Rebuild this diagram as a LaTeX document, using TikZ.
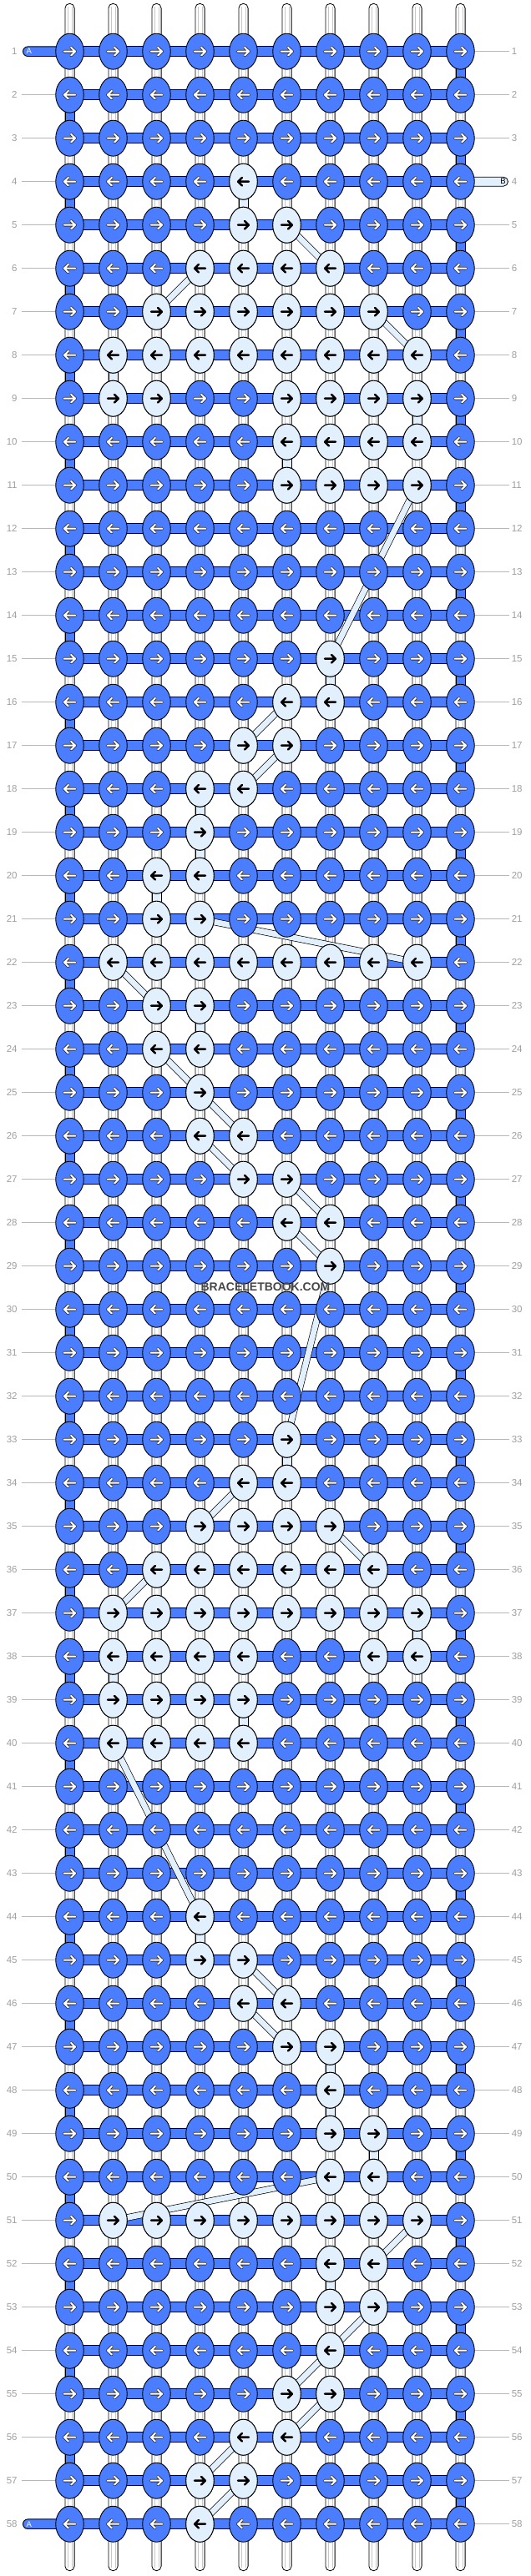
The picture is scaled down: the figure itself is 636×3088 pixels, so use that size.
\documentclass[tikz,border=0pt]{standalone}
\usepackage{fontspec}
\setmainfont{Liberation Sans}
\usetikzlibrary{shapes.geometric}

\definecolor{threadA}{HTML}{4A7DFF}
\definecolor{threadB}{HTML}{E2F0FE}
\definecolor{rowgray}{HTML}{9E9E9E}

\tikzset{
  string/.style={draw=black, fill=white, line width=0.8pt, rounded corners=5.5pt},
  core/.style={draw=black!22, line width=0.6pt},
  turnA/.style={draw=black, fill=threadA, line width=0.8pt},
  passB/.style={draw=black, fill=threadB, line width=0.8pt},
  rowA/.style={draw=black, fill=threadA, line width=0.9pt},
  carryB/.style={draw=black, line width=0.7pt, double=threadB, double distance=6.8pt},
  tick/.style={draw=black!28, line width=0.8pt},
  knotA/.style={ellipse, draw=black, line width=0.9pt, fill=threadA,
    minimum width=33.5pt, minimum height=43pt, inner sep=0pt},
  knotB/.style={knotA, fill=threadB},
  rownum/.style={text=rowgray, font=\fontsize{11.5}{12}\selectfont, inner sep=0pt},
  tabtext/.style={font=\fontsize{9.5}{10}\selectfont, inner sep=0pt},
  arrowW/.pic={
    \draw[line width=3.7pt, line cap=round, line join=round, black!80]
      (-6.8,0) -- (6,0) (1.6,-4.8) -- (6.6,0) -- (1.6,4.8);
    \draw[line width=2pt, line cap=round, line join=round, white]
      (-6.8,0) -- (6,0) (1.6,-4.8) -- (6.6,0) -- (1.6,4.8);
  },
  arrowK/.pic={
    \draw[line width=2.5pt, line cap=round, line join=round, black]
      (-6.5,0) -- (6,0) (1.6,-4.8) -- (6.4,0) -- (1.6,4.8);
  }
}

\begin{document}
\begin{tikzpicture}[x=1pt, y=-1pt]
\useasboundingbox (0,0) rectangle (636,3088);

% grid of knots
\foreach \r in {1,...,58}
  \foreach \c in {0,...,9}
    \coordinate (k-\r-\c) at ({83.5+52*\c},{9.7+52*\r});

% ends of the row ticks
\foreach \r in {1,...,58}{
  \coordinate (lt-\r) at (26,{9.7+52*\r});
  \coordinate (rt-\r) at (610,{9.7+52*\r});
}
\coordinate (A-top) at (27.5,61.7);
\coordinate (A-bot) at (27.5,3025.7);
\coordinate (B-end) at (608.5,217.7);

% ticks to the row numbers
\foreach \r in {2,...,57}
  \draw[tick] (lt-\r) -- (k-\r-0);
\foreach \r in {1,2,3,5,6,...,58}
  \draw[tick] (k-\r-9) -- (rt-\r);

% row numbers
\foreach \r in {1,...,58}{
  \node[rownum, anchor=east] (ln-\r) at (20.8,{9.7+52*\r}) {\r};
  \node[rownum, anchor=west] (rn-\r) at (612.6,{9.7+52*\r}) {\r};
}

% strings
\foreach \c in {0,...,9}{
  \draw[string] ({83.5+52*\c-5.6},4.3) rectangle ({83.5+52*\c+5.6},3081.7);
  \draw[core] ({83.5+52*\c-2.6},8) -- ({83.5+52*\c-2.6},3078)
              ({83.5+52*\c+2.6},8) -- ({83.5+52*\c+2.6},3078);
}

% A turning at the edges
\foreach \r in {1,...,57}{
  \pgfmathtruncatemacro\c{isodd(\r) ? 9 : 0}
  \pgfmathtruncatemacro\s{\r+1}
  \draw[turnA] ([xshift=-5.6pt]k-\r-\c) rectangle ([xshift=5.6pt]k-\s-\c);
}

% B going straight down
\foreach \r/\c in {4/4, 8/1, 9/8, 10/5, 15/6, 18/3, 19/3, 20/2, 23/3, 33/5,
                   37/8, 38/1, 39/4, 44/3, 47/6, 48/6, 49/7, 52/6}{
  \pgfmathtruncatemacro\s{\r+1}
  \draw[passB] ([xshift=-5.6pt]k-\r-\c) rectangle ([xshift=5.6pt]k-\s-\c);
}

% rows of A
\foreach \r in {1,...,58}
  \draw[rowA] ([yshift=5.8pt]k-\r-0) rectangle ([yshift=-5.8pt]k-\r-9);

% tabs A, B
\draw[rowA, rounded corners=5.8pt] ([yshift=5.8pt]A-top) rectangle ([yshift=-5.8pt]k-1-0);
\draw[rowA, rounded corners=5.8pt] ([yshift=5.8pt]A-bot) rectangle ([yshift=-5.8pt]k-58-0);
\draw[passB, rounded corners=5.5pt] ([yshift=5.5pt]k-4-9) rectangle ([yshift=-5.5pt]B-end);
\node[tabtext, text=white] (tA-1) at ([xshift=7.2pt]A-top) {A};
\node[tabtext, text=white] (tA-58) at ([xshift=7.2pt]A-bot) {A};
\node[tabtext, text=black] (tB-4) at ([xshift=-6pt]B-end) {B};

% B carried to another string
\foreach \a/\b in {5-5/6-6, 6-3/7-2, 7-7/8-8, 11-8/15-6, 16-5/17-4, 17-5/18-4,
                   21-3/22-8, 22-1/23-2, 24-2/25-3, 25-3/26-4, 26-3/27-4,
                   27-5/28-6, 28-5/29-6, 29-6/33-5, 34-4/35-3, 35-6/36-7,
                   36-2/37-1, 40-1/44-3, 45-4/46-5, 46-4/47-5, 50-6/51-1,
                   51-8/52-7, 53-7/54-6, 54-6/55-5, 55-6/56-5, 56-4/57-3, 57-4/58-3}
  \draw[carryB] (k-\a) -- (k-\b);

% knots in A
\foreach \r in {1,...,58}{
  \pgfmathsetmacro\ang{isodd(\r) ? 0 : 180}
  \foreach \c in {0,...,9}{
    \node[knotA] (n-\r-\c) at (k-\r-\c) {};
    \pic[rotate=\ang] at (k-\r-\c) {arrowW};
  }
}

% knots in B
\foreach \r/\cs in {4/{4}, 5/{4,5}, 6/{3,...,6}, 7/{2,...,7}, 8/{1,...,8},
                    9/{1,2,5,6,7,8}, 10/{5,...,8}, 11/{5,...,8}, 15/{6}, 16/{5,6},
                    17/{4,5}, 18/{3,4}, 19/{3}, 20/{2,3}, 21/{2,3}, 22/{1,...,8},
                    23/{2,3}, 24/{2,3}, 25/{3}, 26/{3,4}, 27/{4,5}, 28/{5,6},
                    29/{6}, 33/{5}, 34/{4,5}, 35/{3,...,6}, 36/{2,...,7},
                    37/{1,...,8}, 38/{1,2,3,4,7,8}, 39/{1,...,4}, 40/{1,...,4},
                    44/{3}, 45/{3,4}, 46/{4,5}, 47/{5,6}, 48/{6}, 49/{6,7},
                    50/{6,7}, 51/{1,...,8}, 52/{6,7}, 53/{6,7}, 54/{6}, 55/{5,6},
                    56/{4,5}, 57/{3,4}, 58/{3}}{
  \pgfmathsetmacro\ang{isodd(\r) ? 0 : 180}
  \foreach \c in \cs {
    \node[knotB] (n-\r-\c) at (k-\r-\c) {};
    \pic[rotate=\ang] at (k-\r-\c) {arrowK};
  }
}

% site mark
\node[text=black!72, font=\bfseries\fontsize{14}{14}\selectfont, inner sep=0pt]
  (mark) at (318,1543) {BRACELETBOOK.COM};
\end{tikzpicture}
\end{document}
